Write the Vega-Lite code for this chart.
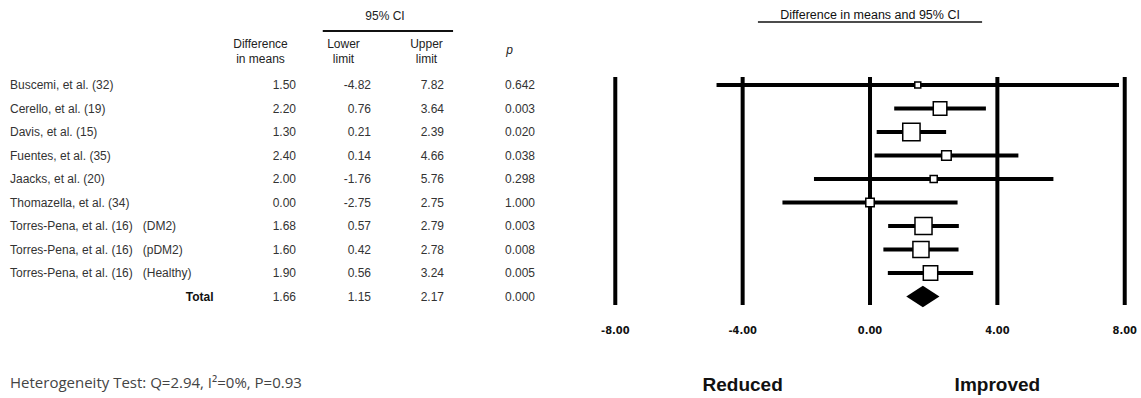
{
  "$schema": "https://vega.github.io/schema/vega-lite/v6.json",
  "padding": 0,
  "spacing": 0,
  "background": "white",
  "config": {
    "view": {"stroke": null},
    "text": {"font": "Liberation Sans", "color": "#333", "baseline": "middle"},
    "locale": {"number": {"decimal": ".", "thousands": ",", "grouping": [3], "currency": ["$", ""], "minus": "-"}}
  },
  "datasets": {
    "studies": [
      {"study": "Buscemi, et al. (32)", "diff": 1.50, "lower": -4.82, "upper": 7.82, "p": 0.642, "weight": 0.65},
      {"study": "Cerello, et al. (19)", "diff": 2.20, "lower": 0.76, "upper": 3.64, "p": 0.003, "weight": 12.6},
      {"study": "Davis, et al. (15)", "diff": 1.30, "lower": 0.21, "upper": 2.39, "p": 0.020, "weight": 22.0},
      {"study": "Fuentes, et al. (35)", "diff": 2.40, "lower": 0.14, "upper": 4.66, "p": 0.038, "weight": 5.1},
      {"study": "Jaacks, et al. (20)", "diff": 2.00, "lower": -1.76, "upper": 5.76, "p": 0.298, "weight": 1.8},
      {"study": "Thomazella, et al. (34)", "diff": 0.00, "lower": -2.75, "upper": 2.75, "p": 1.000, "weight": 3.5},
      {"study": "Torres-Pena, et al. (16)\u00a0\u00a0 (DM2)", "diff": 1.68, "lower": 0.57, "upper": 2.79, "p": 0.003, "weight": 21.2},
      {"study": "Torres-Pena, et al. (16)\u00a0\u00a0 (pDM2)", "diff": 1.60, "lower": 0.42, "upper": 2.78, "p": 0.008, "weight": 18.7},
      {"study": "Torres-Pena, et al. (16)\u00a0\u00a0 (Healthy)", "diff": 1.90, "lower": 0.56, "upper": 3.24, "p": 0.005, "weight": 14.5},
      {"study": "Total", "diff": 1.66, "lower": 1.15, "upper": 2.17, "p": 0.000, "weight": null}
    ],
    "ticks": [{"v": -8}, {"v": -4}, {"v": 0}, {"v": 4}, {"v": 8}],
    "headers": [
      {"col": 1, "label": "Difference\nin means"},
      {"col": 2, "label": "Lower\nlimit"},
      {"col": 3, "label": "Upper\nlimit"}
    ]
  },
  "hconcat": [
    {
      "width": 561,
      "height": 398,
      "data": {"name": "studies"},
      "transform": [{"window": [{"op": "row_number", "as": "idx"}]}],
      "layer": [
        {
          "transform": [{"filter": "datum.study !== 'Total'"}],
          "mark": {"type": "text", "align": "left", "dx": -167.5, "fontSize": 12},
          "encoding": {
            "x": {"datum": 0, "type": "quantitative", "scale": {"domain": [-2.1386, 4.6205], "nice": false, "zero": false}, "axis": null},
            "y": {"field": "idx", "type": "quantitative", "scale": {"domain": [-2.617, 14.319], "nice": false, "zero": false, "reverse": true}, "axis": null},
            "text": {"field": "study"}
          }
        },
        {
          "transform": [{"filter": "datum.study === 'Total'"}],
          "mark": {"type": "text", "align": "right", "dx": 36, "fontSize": 12, "fontWeight": "bold", "color": "#111"},
          "encoding": {
            "x": {"datum": 0, "type": "quantitative"},
            "y": {"field": "idx", "type": "quantitative"},
            "text": {"field": "study"}
          }
        },
        {
          "mark": {"type": "text", "align": "right", "dx": 35.5, "fontSize": 12},
          "encoding": {
            "x": {"datum": 1, "type": "quantitative"},
            "y": {"field": "idx", "type": "quantitative"},
            "text": {"field": "diff", "format": ".2f"}
          }
        },
        {
          "mark": {"type": "text", "align": "right", "dx": 27.5, "fontSize": 12},
          "encoding": {
            "x": {"datum": 2, "type": "quantitative"},
            "y": {"field": "idx", "type": "quantitative"},
            "text": {"field": "lower", "format": ".2f"}
          }
        },
        {
          "mark": {"type": "text", "align": "right", "dx": 17.5, "fontSize": 12},
          "encoding": {
            "x": {"datum": 3, "type": "quantitative"},
            "y": {"field": "idx", "type": "quantitative"},
            "text": {"field": "upper", "format": ".2f"}
          }
        },
        {
          "mark": {"type": "text", "align": "right", "dx": 25.5, "fontSize": 12},
          "encoding": {
            "x": {"datum": 4, "type": "quantitative"},
            "y": {"field": "idx", "type": "quantitative"},
            "text": {"field": "p", "format": ".3f"}
          }
        },
        {
          "data": {"name": "headers"},
          "mark": {"type": "text", "align": "center", "fontSize": 12, "lineBreak": "\n", "lineHeight": 15, "color": "#222"},
          "encoding": {
            "x": {"field": "col", "type": "quantitative"},
            "y": {"datum": -0.745, "type": "quantitative"},
            "text": {"field": "label"}
          }
        },
        {
          "data": {"values": [{}]},
          "mark": {"type": "text", "align": "center", "fontSize": 12, "fontStyle": "italic", "color": "#222"},
          "encoding": {
            "x": {"datum": 4, "type": "quantitative"},
            "y": {"datum": -0.5, "type": "quantitative"},
            "text": {"value": "p"}
          }
        },
        {
          "data": {"values": [{}]},
          "mark": {"type": "text", "align": "center", "fontSize": 12, "color": "#222"},
          "encoding": {
            "x": {"datum": 2.5, "type": "quantitative"},
            "y": {"datum": -1.95, "type": "quantitative"},
            "text": {"value": "95% CI"}
          }
        },
        {
          "data": {"values": [{}]},
          "mark": {"type": "rule", "strokeWidth": 2, "color": "#111"},
          "encoding": {
            "x": {"datum": 1.75, "type": "quantitative"},
            "x2": {"datum": 3.32},
            "y": {"datum": -1.3, "type": "quantitative"}
          }
        },
        {
          "data": {"values": [{}]},
          "mark": {"type": "text", "align": "left", "dx": -167.5, "fontSize": 15, "font": "Open Sans", "color": "#444"},
          "encoding": {
            "x": {"datum": 0, "type": "quantitative"},
            "y": {"datum": 13.68, "type": "quantitative"},
            "text": {"value": "Heterogeneity Test: Q=2.94, I²=0%, P=0.93"}
          }
        }
      ]
    },
    {
      "width": 580,
      "height": 398,
      "data": {"name": "studies"},
      "transform": [{"window": [{"op": "row_number", "as": "idx"}]}],
      "layer": [
        {
          "data": {"name": "ticks"},
          "mark": {"type": "rule", "strokeWidth": 4, "color": "black"},
          "encoding": {
            "x": {"field": "v", "type": "quantitative", "scale": {"domain": [-9.705, 8.511], "nice": false, "zero": false}, "axis": null},
            "y": {"datum": 0.66, "type": "quantitative", "scale": {"domain": [-2.617, 14.319], "nice": false, "zero": false, "reverse": true}, "axis": null},
            "y2": {"datum": 10.36}
          }
        },
        {
          "data": {"name": "ticks"},
          "mark": {"type": "text", "align": "center", "fontSize": 11, "fontWeight": "bold", "font": "Liberation Sans Narrow, DejaVu Sans Condensed, sans-serif", "color": "#111"},
          "encoding": {
            "x": {"field": "v", "type": "quantitative"},
            "y": {"datum": 11.468, "type": "quantitative"},
            "text": {"field": "v", "format": ".2f"}
          }
        },
        {
          "transform": [{"filter": "datum.study !== 'Total'"}],
          "mark": {"type": "rule", "strokeWidth": 4, "color": "black"},
          "encoding": {
            "x": {"field": "lower", "type": "quantitative"},
            "x2": {"field": "upper"},
            "y": {"field": "idx", "type": "quantitative"}
          }
        },
        {
          "transform": [{"filter": "datum.study !== 'Total'"}],
          "mark": {"type": "point", "shape": "square", "filled": true, "fill": "white", "stroke": "black", "strokeWidth": 1.5, "opacity": 1},
          "encoding": {
            "x": {"field": "diff", "type": "quantitative"},
            "y": {"field": "idx", "type": "quantitative"},
            "size": {"field": "weight", "type": "quantitative", "scale": {"domain": [0.65, 22], "range": [36, 300], "zero": false}, "legend": null}
          }
        },
        {
          "transform": [{"filter": "datum.study === 'Total'"}],
          "mark": {"type": "point", "shape": "M-1,0L0,-0.65L1,0L0,0.65Z", "filled": true, "color": "black", "size": 1100, "opacity": 1},
          "encoding": {
            "x": {"field": "diff", "type": "quantitative"},
            "y": {"field": "idx", "type": "quantitative"}
          }
        },
        {
          "data": {"values": [{}]},
          "mark": {"type": "text", "align": "center", "fontSize": 12.5, "color": "#111"},
          "encoding": {
            "x": {"datum": 0, "type": "quantitative"},
            "y": {"datum": -1.979, "type": "quantitative"},
            "text": {"value": "Difference in means and 95% CI"}
          }
        },
        {
          "data": {"values": [{}]},
          "mark": {"type": "rule", "strokeWidth": 1.5, "color": "#111"},
          "encoding": {
            "x": {"datum": -3.52, "type": "quantitative"},
            "x2": {"datum": 3.52},
            "y": {"datum": -1.681, "type": "quantitative"}
          }
        },
        {
          "data": {"values": [{}]},
          "mark": {"type": "text", "align": "center", "fontSize": 19, "fontWeight": "bold", "color": "#111"},
          "encoding": {
            "x": {"datum": -4, "type": "quantitative"},
            "y": {"datum": 13.766, "type": "quantitative"},
            "text": {"value": "Reduced"}
          }
        },
        {
          "data": {"values": [{}]},
          "mark": {"type": "text", "align": "center", "fontSize": 19, "fontWeight": "bold", "color": "#111"},
          "encoding": {
            "x": {"datum": 4, "type": "quantitative"},
            "y": {"datum": 13.766, "type": "quantitative"},
            "text": {"value": "Improved"}
          }
        }
      ]
    }
  ]
}
